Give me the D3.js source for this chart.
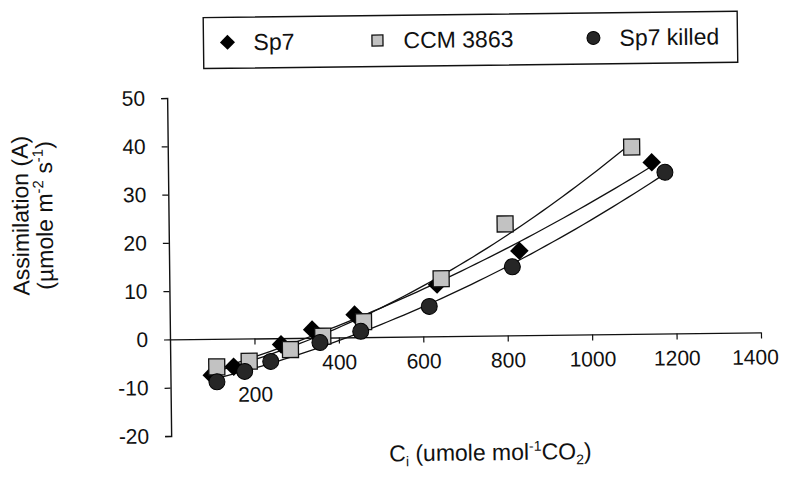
<!DOCTYPE html>
<html>
<head>
<meta charset="utf-8">
<script src="https://cdn.jsdelivr.net/npm/d3@7"></script>
<style>
  html, body { margin: 0; padding: 0; background: #fff; }
  svg { display: block; font-family: "Liberation Sans", Arial, sans-serif; }
</style>
</head>
<body>
<div id="chart"></div>
<script>
// data (Ci in umole mol-1 CO2, A in umole m-2 s-1)
const seriesNames = ['Sp7', 'CCM 3863', 'Sp7 killed'];
const sp7Ci = [98, 150, 263, 337, 438, 634, 830, 1146];
const sp7A = [-7.5, -5.8, -1.3, 1.7, 4.7, 10.7, 17.5, 35.5];
const ccmCi = [110, 187, 285, 362, 459, 644, 797, 1099];
const ccmA = [-5.8, -4.7, -2.4, 0.3, 3.2, 11.9, 23.1, 38.7];
const killedCi = [110, 176, 238, 355, 452, 615, 813, 1177];
const killedA = [-8.9, -6.8, -4.8, -1.0, 1.2, 6.2, 14.2, 33.4];
const xTicks = [200, 400, 600, 800, 1000, 1200, 1400];
const yTicks = [-20, -10, 0, 10, 20, 30, 40, 50];

const width = 786;
const height = 480;

const series = [
    { name: seriesNames[0], ci: sp7Ci, a: sp7A, shape: 'diamond' },
    { name: seriesNames[1], ci: ccmCi, a: ccmA, shape: 'square' },
    { name: seriesNames[2], ci: killedCi, a: killedA, shape: 'circle' },
];

// 2nd order least squares fit (excel style polynomial trendline)
function polyfit2(xs, ys) {
    const s = [0, 0, 0, 0, 0];
    const t = [0, 0, 0];
    xs.forEach((x, i) => {
        for (let k = 0; k < 5; k++) s[k] += Math.pow(x, k);
        for (let k = 0; k < 3; k++) t[k] += Math.pow(x, k) * ys[i];
    });
    const m = [
        [s[0], s[1], s[2], t[0]],
        [s[1], s[2], s[3], t[1]],
        [s[2], s[3], s[4], t[2]],
    ];
    for (let c = 0; c < 3; c++) {
        for (let r = c + 1; r < 3; r++) {
            const f = m[r][c] / m[c][c];
            for (let k = c; k < 4; k++) m[r][k] -= f * m[c][k];
        }
    }
    const b = [0, 0, 0];
    for (let r = 2; r >= 0; r--) {
        let v = m[r][3];
        for (let k = r + 1; k < 3; k++) v -= m[r][k] * b[k];
        b[r] = v / m[r][r];
    }
    return (x) => b[0] + b[1] * x + b[2] * x * x;
}

const x = d3.scaleLinear().domain([0, 1400]).range([170, 761]);
const y = d3.scaleLinear().domain([-20, 50]).range([436, 98]);

const svg = d3
    .select('#chart')
    .append('svg')
    .attr('width', width)
    .attr('height', height)
    .attr('viewBox', [0, 0, width, height]);

// the scanned original is slightly rotated
const root = svg.append('g').attr('transform', `rotate(-0.68, ${x(0)}, ${y(0)})`);

// Y AXIS
root.append('g')
    .attr('transform', `translate(${x(0)},0)`)
    .call(d3.axisLeft(y).tickValues(yTicks).tickSize(6).tickSizeOuter(6).tickPadding(16).tickFormat((d) => String(d)))
    .call((g) => g.select('.domain').attr('stroke', '#111').attr('stroke-width', 1.4))
    .call((g) => g.selectAll('.tick line').attr('stroke', '#111').attr('stroke-width', 1.2))
    .call((g) =>
        g.selectAll('.tick text')
            .attr('font-size', '21px')
            .attr('font-family', '"Liberation Sans", Arial, sans-serif')
            .attr('fill', '#111')
    );

// X AXIS at A = 0
root.append('g')
    .attr('transform', `translate(0,${y(0)})`)
    .call(d3.axisBottom(x).tickValues(xTicks).tickSize(6).tickSizeOuter(0).tickPadding(11).tickFormat((d) => String(d)))
    .call((g) => g.select('.domain').attr('stroke', '#111').attr('stroke-width', 1.4))
    .call((g) => g.selectAll('.tick line').attr('stroke', '#111').attr('stroke-width', 1.2))
    .call((g) =>
        g.selectAll('.tick text')
            .attr('font-size', '21px')
            .attr('font-family', '"Liberation Sans", Arial, sans-serif')
            .attr('fill', '#111')
            .attr('dx', (d) => (d === 1400 ? '-0.3em' : 0))
            .attr('dy', (d) => (d === 200 ? '2.2em' : '0.71em'))
    );

// TRENDLINES
const line = d3.line().x((d) => x(d[0])).y((d) => y(d[1])).curve(d3.curveLinear);
series.forEach((s) => {
    const f = polyfit2(s.ci, s.a);
    const lo = d3.min(s.ci);
    const hi = d3.max(s.ci);
    const pts = d3.range(0, 61).map((k) => {
        const c = lo + ((hi - lo) * k) / 60;
        return [c, f(c)];
    });
    root.append('path')
        .datum(pts)
        .attr('fill', 'none')
        .attr('stroke', '#111')
        .attr('stroke-width', 1.3)
        .attr('d', line);
});

// MARKERS
function drawMarker(g, shape, cx, cy, size) {
    if (shape === 'diamond') {
        const r = size * 0.58;
        g.append('path')
            .attr('d', `M${cx},${cy - r}L${cx + r},${cy}L${cx},${cy + r}L${cx - r},${cy}Z`)
            .attr('fill', '#000');
    } else if (shape === 'square') {
        g.append('rect')
            .attr('x', cx - size / 2)
            .attr('y', cy - size / 2)
            .attr('width', size)
            .attr('height', size)
            .attr('fill', '#c2c2c2')
            .attr('stroke', '#111')
            .attr('stroke-width', 1.3);
    } else {
        g.append('circle')
            .attr('cx', cx)
            .attr('cy', cy)
            .attr('r', size / 2)
            .attr('fill', '#262626')
            .attr('stroke', '#000')
            .attr('stroke-width', 1);
    }
}

const marks = root.append('g');
series.forEach((s) => {
    s.ci.forEach((c, i) => drawMarker(marks, s.shape, x(c), y(s.a[i]), 16));
});

// AXIS TITLES
const yTitle = root.append('g')
    .attr('font-size', '23px')
    .attr('fill', '#111')
    .attr('text-anchor', 'middle');
yTitle.append('text')
    .attr('transform', 'translate(30,214) rotate(-90)')
    .text('Assimilation (A)');
const yTitle2 = yTitle.append('text')
    .attr('transform', 'translate(54,214) rotate(-90)');
yTitle2.append('tspan').text('(µmole m');
yTitle2.append('tspan').attr('dy', -9).attr('font-size', '15px').text('-2');
yTitle2.append('tspan').attr('dy', 9).text(' s');
yTitle2.append('tspan').attr('dy', -9).attr('font-size', '15px').text('-1');
yTitle2.append('tspan').attr('dy', 9).text(')');

const xTitle = root.append('text')
    .attr('x', 489)
    .attr('y', 464)
    .attr('font-size', '23px')
    .attr('fill', '#111')
    .attr('text-anchor', 'middle');
xTitle.append('tspan').text('C');
xTitle.append('tspan').attr('dy', 5).attr('font-size', '14px').text('i');
xTitle.append('tspan').attr('dy', -5).text(' (umole mol');
xTitle.append('tspan').attr('dy', -9).attr('font-size', '14px').text('-1');
xTitle.append('tspan').attr('dy', 9).text('CO');
xTitle.append('tspan').attr('dy', 5).attr('font-size', '14px').text('2');
xTitle.append('tspan').attr('dy', -5).text(')');

// LEGEND
const legend = root.append('g');
legend.append('rect')
    .attr('x', 207)
    .attr('y', 18)
    .attr('width', 534)
    .attr('height', 51)
    .attr('fill', '#fff')
    .attr('stroke', '#111')
    .attr('stroke-width', 1.4);
const legendX = [231, 381, 597];
series.forEach((s, i) => {
    drawMarker(legend, s.shape, legendX[i], 43, s.shape === 'square' ? 11 : 13);
    legend.append('text')
        .attr('x', legendX[i] + 26)
        .attr('y', 51)
        .attr('font-size', '23px')
        .attr('fill', '#111')
        .text(s.name);
});
</script>
</body>
</html>
